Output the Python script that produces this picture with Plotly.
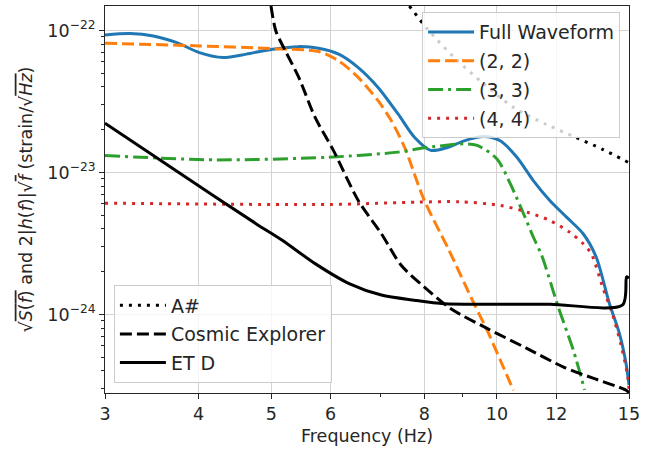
import plotly.graph_objects as go

# ---- data ----
fw_freq = [3.00, 3.24, 3.48, 3.74, 4.01, 4.31, 4.63, 5.02, 5.44, 5.78, 6.15, 6.53, 6.94, 7.38, 7.76,
           8.16, 8.59, 9.04, 9.61, 10.10, 10.63, 11.18, 11.76, 12.38, 13.03, 13.56, 14.12, 14.56, 14.86, 15.00]
fw_val = [9.30e-23, 9.50e-23, 9.15e-23, 8.21e-23, 6.98e-23, 6.44e-23, 6.81e-23, 7.38e-23, 7.69e-23, 7.50e-23,
          6.81e-23, 5.48e-23, 3.97e-23, 2.58e-23, 1.77e-23, 1.43e-23, 1.50e-23, 1.67e-23, 1.79e-23, 1.67e-23,
          1.28e-23, 8.77e-24, 6.35e-24, 4.85e-24, 3.70e-24, 2.54e-24, 1.20e-24, 7.40e-25, 4.55e-25, 3.19e-25]

l22_freq = [3.00, 4.01, 5.02, 5.78, 6.15, 6.53, 6.94, 7.23, 7.53, 8.00, 8.63, 9.32, 9.70, 10.10, 10.52]
l22_val = [8.13e-23, 7.78e-23, 7.44e-23, 7.10e-23, 6.10e-23, 4.67e-23, 3.20e-23, 2.31e-23, 1.50e-23,
           6.35e-24, 2.83e-24, 1.19e-24, 7.75e-25, 4.78e-25, 2.92e-25]

l33_freq = [3.00, 4.22, 5.96, 7.38, 8.00, 9.04, 9.41, 10.00, 10.42, 10.85, 11.18, 11.47, 12.07, 12.64, 13.09]
l33_val = [1.315e-23, 1.226e-23, 1.28e-23, 1.39e-23, 1.49e-23, 1.59e-23, 1.55e-23, 1.246e-23, 8.30e-24,
           5.12e-24, 3.51e-24, 2.61e-24, 1.13e-24, 5.62e-25, 2.94e-25]

l44_freq = [3.00, 5.96, 7.84, 8.90, 10.10, 10.96, 11.76, 12.50, 13.03, 13.36, 13.85, 14.27, 14.64, 14.94, 15.00]
l44_val = [6.08e-24, 5.95e-24, 6.18e-24, 6.22e-24, 5.86e-24, 5.26e-24, 4.59e-24, 3.80e-24, 3.15e-24,
           2.68e-24, 1.53e-24, 9.90e-25, 6.08e-25, 3.69e-25, 2.94e-25]

asharp_freq = [7.64, 8.08, 8.77, 9.61, 10.52, 11.65, 12.76, 13.85, 15.00]
asharp_val = [1.486e-22, 1.02e-22, 6.44e-23, 4.19e-23, 2.87e-23, 2.17e-23, 1.76e-23, 1.45e-23, 1.17e-23]

ce_freq = [4.995, 5.07, 5.22, 5.44, 5.72, 6.05, 6.53, 7.01, 7.45, 8.00, 8.67, 9.70, 10.96, 12.25, 13.43, 14.85, 15.00]
ce_val = [1.486e-22, 9.92e-23, 7.18e-23, 4.67e-23, 2.44e-23, 1.43e-23, 6.35e-24, 3.71e-24, 2.22e-24,
          1.56e-24, 1.10e-24, 7.98e-25, 5.77e-25, 4.28e-25, 3.56e-25, 2.94e-25, 2.82e-25]

etd_freq = [3.00, 3.78, 4.77, 5.17, 5.72, 6.35, 7.01, 7.76, 8.50, 9.61, 11.76, 14.71, 14.89, 15.00]
etd_val = [2.22e-23, 9.82e-24, 4.36e-24, 3.33e-24, 2.28e-24, 1.65e-24, 1.37e-24, 1.26e-24, 1.19e-24,
           1.18e-24, 1.18e-24, 1.17e-24, 1.84e-24, 1.80e-24]

x_ticks = [3, 4, 5, 6, 8, 10, 12, 15]
x_ticklabels = ["3", "4", "5", "6", "8", "10", "12", "15"]
x_minor = [7, 9]
y_ticks = [1e-24, 1e-23, 1e-22]
y_ticklabels = ["10<sup>−24</sup>", "10<sup>−23</sup>", "10<sup>−22</sup>"]
y_minor = [m * 10.0 ** e for e in (-25, -24, -23) for m in range(2, 10)]

FONT = "DejaVu Sans"
FS = 17.5
LFS = 19

fig = go.Figure()

def add(x, y, name, color, dash, width, legend, group):
    fig.add_trace(go.Scatter(
        x=x, y=y, name=name, mode="lines",
        line=dict(color=color, dash=dash, width=width, shape="spline", smoothing=0.8),
        legend=legend, legendgroup=group,
    ))

add(fw_freq, fw_val, "Full Waveform", "#1f77b4", "solid", 3, "legend", "a")
add(l22_freq, l22_val, "(2, 2)", "#ff7f0e", "12px,5px", 3, "legend", "b")
add(l33_freq, l33_val, "(3, 3)", "#2ca02c", "15px,5px,3px,5px", 3, "legend", "c")
add(l44_freq, l44_val, "(4, 4)", "#d62728", "3px,6px", 3, "legend", "d")
add(asharp_freq, asharp_val, "A#", "black", "3px,6px", 3, "legend2", "e")
add(ce_freq, ce_val, "Cosmic Explorer", "black", "12px,5px", 3, "legend2", "f")
add(etd_freq, etd_val, "ET D", "black", "solid", 3, "legend2", "g")

legend_common = dict(
    bgcolor="rgba(255,255,255,0.8)", bordercolor="#cccccc", borderwidth=1,
    font=dict(family=FONT, size=LFS, color="#262626"),
    traceorder="grouped", tracegroupgap=1, itemwidth=46,
)

fig.update_layout(
    width=645, height=449,
    margin=dict(l=105, r=12, t=5, b=56),
    paper_bgcolor="white", plot_bgcolor="white",
    font=dict(family=FONT, size=FS, color="#262626"),
    legend=dict(x=0.983, y=0.984, xanchor="right", yanchor="top", **legend_common),
    legend2=dict(x=0.017, y=0.025, xanchor="left", yanchor="bottom", **legend_common),
    xaxis=dict(
        type="log", range=[0.47712, 1.17609],
        tickmode="array", tickvals=x_ticks, ticktext=x_ticklabels,
        ticks="outside", ticklen=5, tickwidth=1, tickcolor="#262626",
        showgrid=True, gridcolor="#d3d3d3", gridwidth=1,
        showline=True, linecolor="#262626", linewidth=1, mirror=True,
        zeroline=False,
        minor=dict(tickmode="array", tickvals=x_minor, ticks="outside", ticklen=3,
                   tickcolor="#262626", showgrid=False),
        title=dict(text="Frequency (Hz)", font=dict(family=FONT, size=FS), standoff=6),
        tickfont=dict(family=FONT, size=FS),
    ),
    yaxis=dict(
        type="log", range=[-24.553, -21.828],
        tickmode="array", tickvals=y_ticks, ticktext=y_ticklabels,
        ticks="outside", ticklen=5, tickwidth=1, tickcolor="#262626",
        showgrid=True, gridcolor="#d3d3d3", gridwidth=1,
        showline=True, linecolor="#262626", linewidth=1, mirror=True,
        zeroline=False,
        minor=dict(tickmode="array", tickvals=y_minor, ticks="outside", ticklen=3,
                   tickcolor="#262626", showgrid=False),
        title=dict(
            text="√<span style='text-decoration:overline'><i>S</i>(<i>f</i>)</span> and 2|<i>h</i>(<i>f</i>)|√<span style='text-decoration:overline'><i>f</i></span> (strain/√<span style='text-decoration:overline'><i>Hz</i></span>)",
            font=dict(family=FONT, size=FS), standoff=10),
        tickfont=dict(family=FONT, size=FS),
    ),
)

fig.write_html("out.html", config={"displayModeBar": False},
               post_script="document.body.style.margin='0';document.body.style.overflow='hidden';")
